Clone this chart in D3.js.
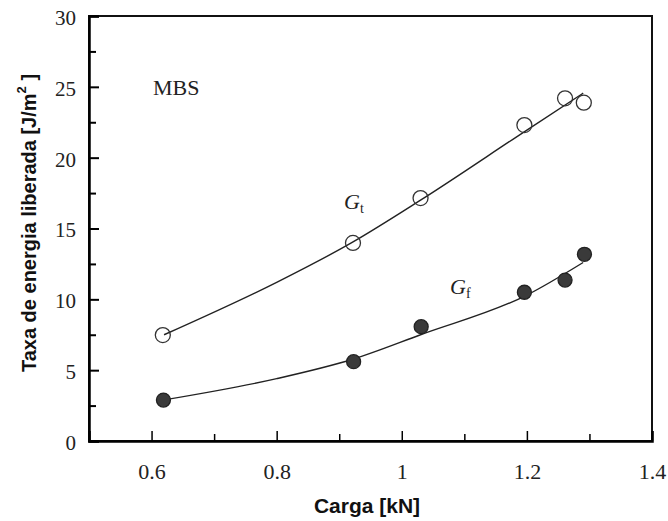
<!DOCTYPE html>
<html><head><meta charset="utf-8">
<script src="https://cdn.jsdelivr.net/npm/d3@7"></script>
<style>body{margin:0;background:#fff}svg{display:block}</style>
</head><body><svg id="c" width="668" height="521"></svg>
<script>
// Data
const loadGt = [0.618, 0.922, 1.030, 1.196, 1.261, 1.291];
const valGt  = [7.48, 13.98, 17.15, 22.3, 24.19, 23.88];
const loadGf = [0.619, 0.923, 1.031, 1.196, 1.261, 1.292];
const valGf  = [2.89, 5.6, 8.07, 10.5, 11.36, 13.18];
// fitted curves
const fitLoad = [0.62, 0.8, 0.92, 1.03, 1.2, 1.29];
const fitGt   = [7.5, 11.2, 14.0, 17.0, 21.95, 24.55];
const fitGf   = [2.9, 4.4, 5.75, 7.5, 10.3, 12.6];
const xMajor = [0.6, 0.8, 1.0, 1.2, 1.4];
const xMinor = [0.7, 0.9, 1.1, 1.3];
const yMajor = [0, 5, 10, 15, 20, 25, 30];
const yMinor = [2.5, 7.5, 12.5, 17.5, 22.5, 27.5];
const xTickLabels = ["0.6", "0.8", "1", "1.2", "1.4"];

const svg = d3.select("#c");
const L = 89, R = 652, T = 16, B = 441;
const x = d3.scaleLinear().domain([0.5, 1.4]).range([L, R]);
const y = d3.scaleLinear().domain([0, 30]).range([B, T]);
const serif = "'Liberation Serif','Times New Roman',serif";
const sans = "'Liberation Sans',Arial,sans-serif";

// frame
svg.append("rect").attr("x", L).attr("y", T).attr("width", R - L).attr("height", B - T)
  .attr("fill", "none").attr("stroke", "#111").attr("stroke-width", 2);

// y axis
const ya = svg.append("g").attr("transform", `translate(${L},0)`)
  .call(d3.axisLeft(y).tickValues(yMajor).tickSize(-10).tickPadding(13).tickFormat(d3.format("d")));
ya.select(".domain").attr("stroke-width", 2.5);
ya.selectAll(".tick line").attr("stroke-width", 2);
ya.selectAll("text").attr("font-family", serif).attr("font-size", 21).attr("fill", "#222").attr("dy", "0.4em");
const yb = svg.append("g").attr("transform", `translate(${L},0)`)
  .call(d3.axisLeft(y).tickValues(yMinor).tickSize(-7).tickFormat(""));
yb.select(".domain").remove();
yb.selectAll(".tick line").attr("stroke-width", 2);

// x axis
const xa = svg.append("g").attr("transform", `translate(0,${B})`)
  .call(d3.axisBottom(x).tickValues(xMajor).tickSize(-10).tickPadding(22)
    .tickFormat((d, i) => xTickLabels[i]));
xa.select(".domain").attr("stroke-width", 2.5);
xa.selectAll(".tick line").attr("stroke-width", 1.5);
xa.selectAll("text").attr("font-family", serif).attr("font-size", 22).attr("fill", "#222");
const xb = svg.append("g").attr("transform", `translate(0,${B})`)
  .call(d3.axisBottom(x).tickValues(xMinor).tickSize(-7).tickFormat(""));
xb.select(".domain").remove();
xb.selectAll(".tick line").attr("stroke-width", 1.5);

// axis titles
svg.append("text").attr("x", 367).attr("y", 513).attr("text-anchor", "middle")
  .attr("font-family", sans).attr("font-weight", "bold").attr("font-size", 21).attr("fill", "#111")
  .text("Carga [kN]");
const yt = svg.append("text").attr("transform", "translate(36,223) rotate(-90)")
  .attr("text-anchor", "middle").attr("font-family", sans).attr("font-weight", "bold")
  .attr("font-size", 20).attr("fill", "#111");
yt.append("tspan").text("Taxa de energia liberada [J/m");
yt.append("tspan").attr("font-size", 13).attr("dy", -10).text("2");
yt.append("tspan").attr("dy", 10).text(" ]");

// fit lines
const line = d3.line().x(d => x(d[0])).y(d => y(d[1])).curve(d3.curveMonotoneX);
svg.append("path").datum(fitLoad.map((v, i) => [v, fitGt[i]])).attr("d", line)
  .attr("fill", "none").attr("stroke", "#222").attr("stroke-width", 1.4);
svg.append("path").datum(fitLoad.map((v, i) => [v, fitGf[i]])).attr("d", line)
  .attr("fill", "none").attr("stroke", "#222").attr("stroke-width", 1.4);

// points
svg.append("g").selectAll("circle").data(loadGt.map((v, i) => [v, valGt[i]])).join("circle")
  .attr("cx", d => x(d[0])).attr("cy", d => y(d[1])).attr("r", 7.5)
  .attr("fill", "none").attr("stroke", "#333").attr("stroke-width", 1.3);
svg.append("g").selectAll("circle").data(loadGf.map((v, i) => [v, valGf[i]])).join("circle")
  .attr("cx", d => x(d[0])).attr("cy", d => y(d[1])).attr("r", 7)
  .attr("fill", "#3a3a3a").attr("stroke", "#222").attr("stroke-width", 1.3);

// annotations
svg.append("text").attr("x", 153).attr("y", 95).attr("font-family", serif).attr("font-size", 22)
  .attr("fill", "#222").text("MBS");
const gt = svg.append("text").attr("x", 344).attr("y", 209).attr("font-family", serif)
  .attr("font-size", 22).attr("fill", "#222");
gt.append("tspan").attr("font-style", "italic").text("G");
gt.append("tspan").attr("font-size", 14).attr("dy", 4).text("t");
const gf = svg.append("text").attr("x", 450).attr("y", 294).attr("font-family", serif)
  .attr("font-size", 22).attr("fill", "#222");
gf.append("tspan").attr("font-style", "italic").text("G");
gf.append("tspan").attr("font-size", 14).attr("dy", 4).text("f");
</script></body></html>
